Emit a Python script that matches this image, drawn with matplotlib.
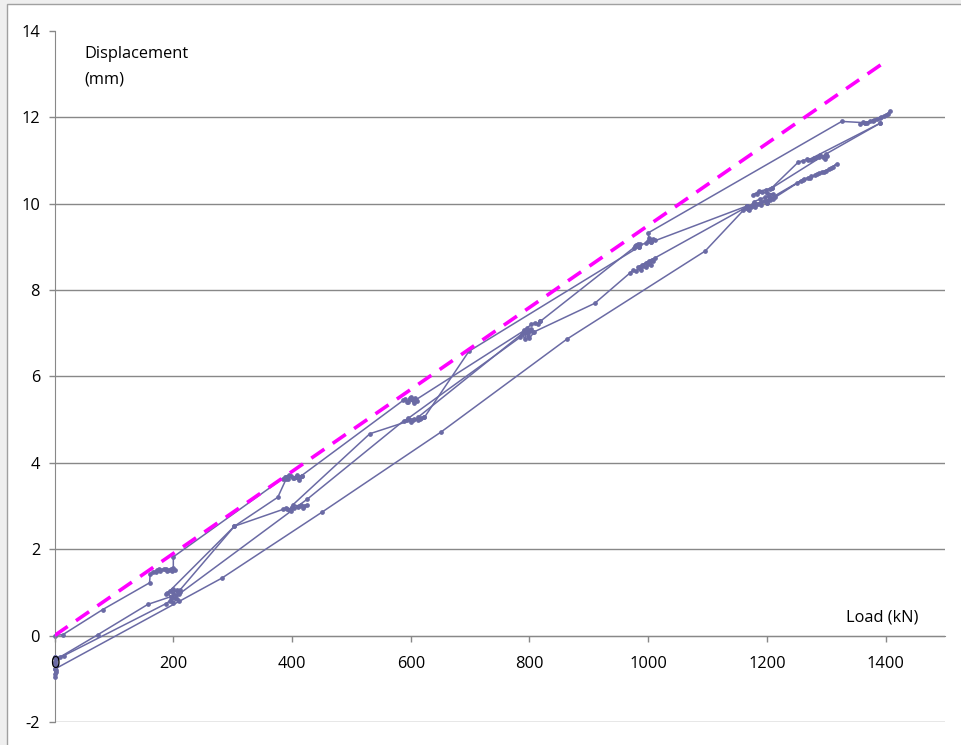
import matplotlib
matplotlib.use('Agg')
import matplotlib.pyplot as plt
from matplotlib.patches import Rectangle

# ---------------- data (load kN, displacement mm) ----------------
# first loading branch (top line) with holds at 200 and 400, 600, 800
virgin_load = [0, 14, 81, 160, 161,
               166, 172, 178, 184, 190, 196, 202, 198, 188, 176, 170, 192, 200, 200,
               384, 389, 394, 399, 404, 409, 414, 417, 411, 402, 395, 388, 407, 416,
               587, 591, 595, 599, 603, 607, 610, 605, 598, 593, 601, 609,
               790, 796, 803, 809, 815, 818]
virgin_disp = [0, 0.02, 0.60, 1.22, 1.42,
               1.48, 1.51, 1.49, 1.53, 1.50, 1.54, 1.52, 1.49, 1.55, 1.53, 1.48, 1.51, 1.56, 1.82,
               3.63, 3.67, 3.62, 3.70, 3.65, 3.71, 3.66, 3.69, 3.61, 3.64, 3.72, 3.66, 3.68, 3.70,
               5.44, 5.48, 5.41, 5.50, 5.45, 5.49, 5.42, 5.38, 5.47, 5.40, 5.52, 5.46,
               7.05, 7.12, 7.20, 7.24, 7.22, 7.27]

# continuation to 1000 and up to 1400 along the upper line
upper_load = [818, 976, 980, 984, 987, 982, 978, 996, 1000, 1004, 1008, 1012, 1001, 1000, 1326, 1365,
              1356, 1362, 1368, 1374, 1380, 1386, 1392, 1398, 1404, 1408, 1400, 1390, 1378, 1366]
upper_disp = [7.27, 8.98, 9.03, 9.00, 9.06, 9.07, 9.01, 9.08, 9.14, 9.10, 9.18, 9.15, 9.21, 9.32, 11.90, 11.87,
              11.84, 11.88, 11.86, 11.91, 11.94, 11.96, 12.00, 12.03, 12.08, 12.14, 12.04, 11.97, 11.92, 11.87]

# unloading from 400 with a hold at 200
unload1_load = [390, 376, 303, 188, 194, 200, 206, 211, 204, 196, 190, 199, 209, 157, 73, 9, 0]
unload1_disp = [3.62, 3.20, 2.53, 0.95, 1.02, 0.98, 1.06, 1.01, 0.93, 0.90, 0.99, 1.08, 0.96, 0.72, 0.02, -0.50, -0.50]

# hold at zero load
zero_load = [0, 2, 1, 3, 0, 2, 1, 0, 2, 1]
zero_disp = [-0.50, -0.55, -0.62, -0.70, -0.78, -0.85, -0.90, -0.95, -0.80, -0.66]

# reloading branch through 200 (lower hold) towards 600 / 800
reload2_load = [0, 15, 188, 194, 200, 206, 210, 202, 196, 426,
                588, 594, 600, 606, 612, 618, 623, 615, 603, 596,
                784, 788, 792, 795, 798, 802, 797, 806, 791, 800, 808, 910,
                970, 975, 980, 984, 988, 992, 996, 1000, 1004, 1008, 1012, 1002, 990, 982, 996, 1006,
                1166]
reload2_disp = [-0.53, -0.47, 0.74, 0.80, 0.76, 0.84, 0.79, 0.86, 0.82, 3.16,
                4.97, 5.00, 4.95, 5.02, 4.98, 5.04, 5.06, 5.01, 4.99, 5.03,
                6.90, 6.98, 6.86, 7.05, 6.94, 7.10, 7.00, 7.02, 7.08, 6.88, 7.03, 7.69,
                8.40, 8.45, 8.43, 8.50, 8.47, 8.55, 8.52, 8.60, 8.58, 8.66, 8.74, 8.68, 8.58, 8.52, 8.62, 8.70,
                9.92]

# branch 200 -> 400 (lower hold) -> 600 -> 1000
reload3_load = [211, 303, 385, 390, 395, 400, 404, 398, 392, 410, 415, 420, 425, 418, 412, 401,
                531, 600, 623, 698, 985]
reload3_disp = [1.05, 2.53, 2.92, 2.96, 2.90, 2.98, 2.94, 2.88, 2.93, 2.97, 3.01, 2.99, 3.03, 2.95, 3.00, 3.02,
                4.67, 4.98, 5.05, 6.58, 9.00]

# 600 -> 800 link
link68_load = [612, 789]
link68_disp = [5.05, 7.00]

# 1000 -> 1200 link
link1012_load = [1004, 1166]
link1012_disp = [9.10, 9.94]

# hold at 1200 and cycles to 1300 / 1400
h1200_load = [1166, 1160, 1165, 1170, 1175, 1180, 1185, 1190, 1195, 1200, 1205, 1210, 1213, 1206, 1198,
              1190, 1182, 1174, 1168, 1178, 1188, 1196, 1204, 1211, 1200, 1192, 1184, 1176, 1186, 1198, 1208]
h1200_disp = [9.94, 9.84, 9.90, 9.86, 9.95, 9.92, 10.00, 9.97, 10.05, 10.02, 10.08, 10.10, 10.16, 10.12, 10.06,
              10.03, 9.98, 9.93, 9.88, 10.04, 10.10, 10.14, 10.18, 10.22, 10.24, 10.26, 10.22, 10.20, 10.28, 10.32, 10.36]

h1300u_load = [1208, 1253, 1260, 1267, 1274, 1281, 1288, 1295, 1302, 1298, 1290, 1280, 1270, 1391]
h1300u_disp = [10.36, 10.96, 10.99, 11.02, 11.00, 11.05, 11.08, 11.07, 11.10, 11.03, 11.12, 11.06, 11.01, 11.86]

unload1400_load = [1391, 1300, 1205]
unload1400_disp = [11.86, 11.15, 10.33]

h1300l_load = [1206, 1251, 1257, 1263, 1269, 1275, 1281, 1287, 1293, 1299, 1305, 1311, 1318,
               1308, 1296, 1284, 1272, 1260, 1200]
h1300l_disp = [10.12, 10.48, 10.53, 10.56, 10.60, 10.63, 10.66, 10.70, 10.72, 10.76, 10.80, 10.85, 10.92,
               10.82, 10.74, 10.68, 10.58, 10.55, 10.02]

# final unloading (lowest line)
final_load = [1180, 1167, 1096, 863, 651, 451, 282, 0]
final_disp = [9.98, 9.94, 8.90, 6.86, 4.71, 2.86, 1.33, -0.78]

# reference dashed line
ref_load = [0, 1396]
ref_disp = [0, 13.25]

series = [(virgin_load, virgin_disp), (upper_load, upper_disp), (unload1_load, unload1_disp),
          (zero_load, zero_disp), (reload2_load, reload2_disp), (reload3_load, reload3_disp),
          (link68_load, link68_disp), (link1012_load, link1012_disp), (h1200_load, h1200_disp),
          (h1300u_load, h1300u_disp), (unload1400_load, unload1400_disp), (h1300l_load, h1300l_disp),
          (final_load, final_disp)]

xticks = [0, 200, 400, 600, 800, 1000, 1200, 1400]
yticks = [-2, 0, 2, 4, 6, 8, 10, 12, 14]
grid_levels = [-2, 0, 2, 4, 6, 8, 10, 12]

# ---------------- figure ----------------
W, H = 961, 745
plt.rcParams['font.family'] = ['Open Sans', 'DejaVu Sans']
fig = plt.figure(figsize=(W / 100, H / 100), dpi=100, facecolor='#efefef')
fig.patches.append(Rectangle((7 / W, -0.01), 1.0, 1 - 4 / H + 0.01, transform=fig.transFigure,
                             facecolor='white', edgecolor='#a0a0a0', lw=1.0, zorder=-5))

ax = fig.add_axes([54.6 / W, (H - 721.9) / H, (945 - 54.6) / W, (721.9 - 30.7) / H])
ax.set_zorder(2)
ax.set_xlim(0, 1500)
ax.set_ylim(-2, 14)
ax.patch.set_alpha(0)

grid_c = '#888888'
for g in grid_levels:
    ax.axhline(g, color=grid_c, lw=1.0, zorder=1)

for s in ['top', 'right']:
    ax.spines[s].set_visible(False)
ax.spines['left'].set_color(grid_c)
ax.spines['bottom'].set_color(grid_c)
ax.spines['bottom'].set_position(('data', 0))

ax.set_xticks(xticks)
ax.set_yticks(yticks)
ax.set_xticklabels([str(v) for v in xticks])
ax.set_yticklabels([str(v) for v in yticks])
ax.tick_params(axis='x', direction='out', length=4, width=1, color=grid_c, pad=10.5, labelsize=11.8, labelcolor='black')
ax.tick_params(axis='y', direction='out', length=4, width=1, color=grid_c, pad=6.5, labelsize=11.8, labelcolor='black')
ax.xaxis.set_zorder(5)

line_c = '#6a6aa4'
for xs, ys in series:
    ax.plot(xs, ys, color=line_c, lw=1.1, marker='o', ms=2.4, mec=line_c, mfc=line_c, zorder=3, clip_on=False)

ax.plot(ref_load, ref_disp, color='#ff00ff', lw=2.6, dashes=(4.4, 2.8), zorder=4)

fig.text(84 / W, 1 - 54 / H, 'Displacement', fontsize=11.8, va='center', ha='left')
fig.text(84 / W, 1 - 80 / H, '(mm)', fontsize=11.8, va='center', ha='left')
fig.text(846 / W, 1 - 618 / H, 'Load (kN)', fontsize=11.8, va='center', ha='left')

fig.savefig('out.png', dpi=100, facecolor=fig.get_facecolor())
